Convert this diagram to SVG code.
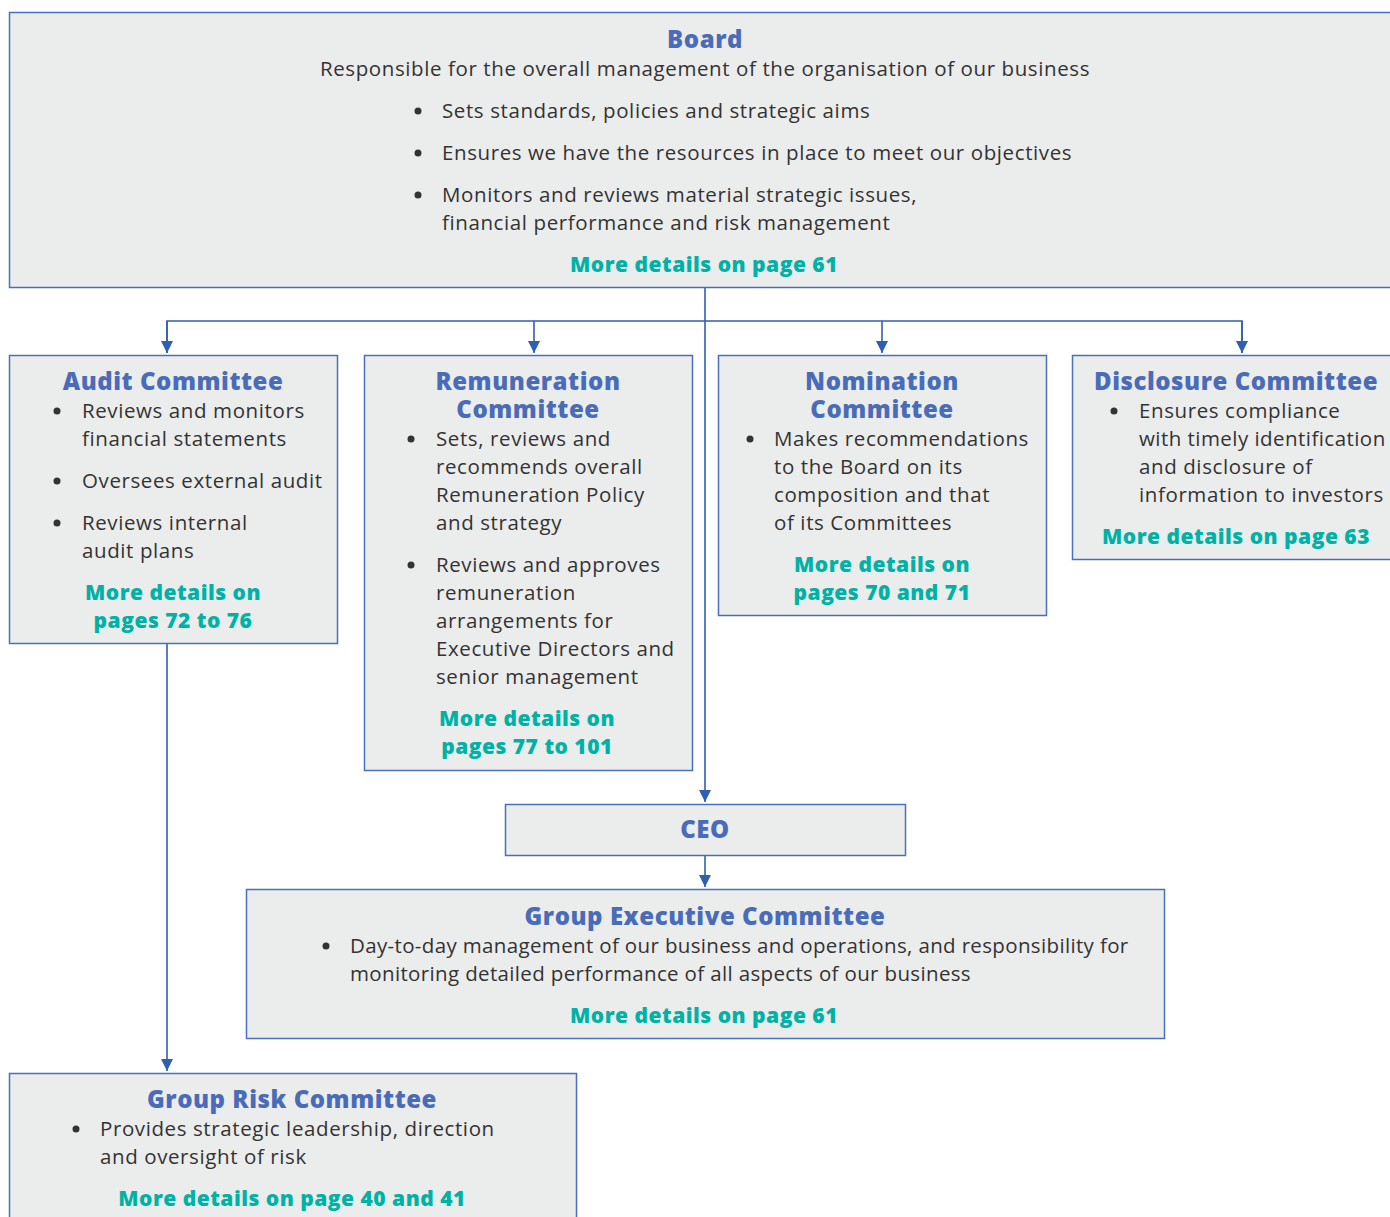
<svg xmlns="http://www.w3.org/2000/svg" width="1390" height="1217" viewBox="0 0 1390 1217">
<style>
.box{fill:#ebecec;stroke:#4a70bd;stroke-width:1.5}
.t{font-family:"Open Sans",Lato,sans-serif;font-weight:800;font-size:24px;letter-spacing:0.55px;fill:#4a6cb8;text-anchor:middle}
.b{font-family:"Open Sans",Lato,sans-serif;font-size:20.5px;letter-spacing:0.6px;fill:#333}
.m{font-family:"Open Sans",Lato,sans-serif;font-weight:800;font-size:21px;letter-spacing:0.5px;fill:#00b2a6;text-anchor:middle}
.c{text-anchor:middle}
.ln{fill:none;stroke:#2f5fb0;stroke-width:1.6}
</style>
<defs>
<marker id="ah" viewBox="0 0 10 10" refX="10" refY="5" markerWidth="12" markerHeight="12" markerUnits="userSpaceOnUse" orient="auto">
<path d="M0,0 L10,5 L0,10 z" fill="#2f5fb0"/>
</marker>
</defs>
<g id="connectors">
<path class="ln" d="M705,287 V802" marker-end="url(#ah)"/>
<path class="ln" d="M167,353 V321 H1242 V353" />
<path class="ln" d="M167,321 V353" marker-end="url(#ah)"/>
<path class="ln" d="M534,321 V353" marker-end="url(#ah)"/>
<path class="ln" d="M882,321 V353" marker-end="url(#ah)"/>
<path class="ln" d="M1242,321 V353" marker-end="url(#ah)"/>
<path class="ln" d="M705,855 V887" marker-end="url(#ah)"/>
<path class="ln" d="M167,643 V1071" marker-end="url(#ah)"/>
</g>
<g id="board">
<rect class="box" x="9.5" y="12.5" width="1390" height="275"/>
<text class="t" x="705" y="48">Board</text>
<text class="b c" x="705" y="76">Responsible for the overall management of the organisation of our business</text>
<circle cx="418" cy="111" r="3.5" fill="#333"/>
<text class="b" x="442" y="118">Sets standards, policies and strategic aims</text>
<circle cx="418" cy="153" r="3.5" fill="#333"/>
<text class="b" x="442" y="160">Ensures we have the resources in place to meet our objectives</text>
<circle cx="418" cy="195" r="3.5" fill="#333"/>
<text class="b" x="442" y="202"><tspan x="442">Monitors and reviews material strategic issues,</tspan><tspan x="442" dy="28">financial performance and risk management</tspan></text>
<text class="m" x="704" y="272">More details on page 61</text>
</g>
<g id="audit">
<rect class="box" x="9.5" y="355.5" width="328" height="288"/>
<text class="t" x="173" y="390">Audit Committee</text>
<circle cx="57" cy="411" r="3.5" fill="#333"/>
<text class="b" y="418"><tspan x="82">Reviews and monitors</tspan><tspan x="82" dy="28">financial statements</tspan></text>
<circle cx="57" cy="481" r="3.5" fill="#333"/>
<text class="b" x="82" y="488">Oversees external audit</text>
<circle cx="57" cy="523" r="3.5" fill="#333"/>
<text class="b" y="530"><tspan x="82">Reviews internal</tspan><tspan x="82" dy="28">audit plans</tspan></text>
<text class="m" y="600"><tspan x="173">More details on</tspan><tspan x="173" dy="28">pages 72 to 76</tspan></text>
</g>
<g id="remuneration">
<rect class="box" x="364.5" y="355.5" width="328" height="415"/>
<text class="t" y="390"><tspan x="528">Remuneration</tspan><tspan x="528" dy="28">Committee</tspan></text>
<circle cx="411" cy="439" r="3.5" fill="#333"/>
<text class="b" y="446"><tspan x="436">Sets, reviews and</tspan><tspan x="436" dy="28">recommends overall</tspan><tspan x="436" dy="28">Remuneration Policy</tspan><tspan x="436" dy="28">and strategy</tspan></text>
<circle cx="411" cy="565" r="3.5" fill="#333"/>
<text class="b" y="572"><tspan x="436">Reviews and approves</tspan><tspan x="436" dy="28">remuneration</tspan><tspan x="436" dy="28">arrangements for</tspan><tspan x="436" dy="28">Executive Directors and</tspan><tspan x="436" dy="28">senior management</tspan></text>
<text class="m" y="726"><tspan x="527">More details on</tspan><tspan x="527" dy="28">pages 77 to 101</tspan></text>
</g>
<g id="nomination">
<rect class="box" x="718.5" y="355.5" width="328" height="260"/>
<text class="t" y="390"><tspan x="882">Nomination</tspan><tspan x="882" dy="28">Committee</tspan></text>
<circle cx="750" cy="439" r="3.5" fill="#333"/>
<text class="b" y="446"><tspan x="774">Makes recommendations</tspan><tspan x="774" dy="28">to the Board on its</tspan><tspan x="774" dy="28">composition and that</tspan><tspan x="774" dy="28">of its Committees</tspan></text>
<text class="m" y="572"><tspan x="882">More details on</tspan><tspan x="882" dy="28">pages 70 and 71</tspan></text>
</g>
<g id="disclosure">
<rect class="box" x="1072.5" y="355.5" width="330" height="204"/>
<text class="t" x="1236" y="390">Disclosure Committee</text>
<circle cx="1114" cy="411" r="3.5" fill="#333"/>
<text class="b" y="418"><tspan x="1139">Ensures compliance</tspan><tspan x="1139" dy="28" style="letter-spacing:0.45px">with timely identification</tspan><tspan x="1139" dy="28">and disclosure of</tspan><tspan x="1139" dy="28">information to investors</tspan></text>
<text class="m" x="1236" y="544">More details on page 63</text>
</g>
<g id="ceo">
<rect class="box" x="505.5" y="804.5" width="400" height="51"/>
<text class="t" x="705" y="838">CEO</text>
</g>
<g id="gec">
<rect class="box" x="246.5" y="889.5" width="918" height="149"/>
<text class="t" x="705" y="925">Group Executive Committee</text>
<circle cx="326" cy="946" r="3.5" fill="#333"/>
<text class="b" y="953" style="letter-spacing:0.35px"><tspan x="350">Day-to-day management of our business and operations, and responsibility for</tspan><tspan x="350" dy="28">monitoring detailed performance of all aspects of our business</tspan></text>
<text class="m" x="704" y="1023">More details on page 61</text>
</g>
<g id="grc">
<rect class="box" x="9.5" y="1073.5" width="567" height="160"/>
<text class="t" x="292" y="1108">Group Risk Committee</text>
<circle cx="76" cy="1129" r="3.5" fill="#333"/>
<text class="b" y="1136"><tspan x="100">Provides strategic leadership, direction</tspan><tspan x="100" dy="28">and oversight of risk</tspan></text>
<text class="m" x="292" y="1206">More details on page 40 and 41</text>
</g>
</svg>
